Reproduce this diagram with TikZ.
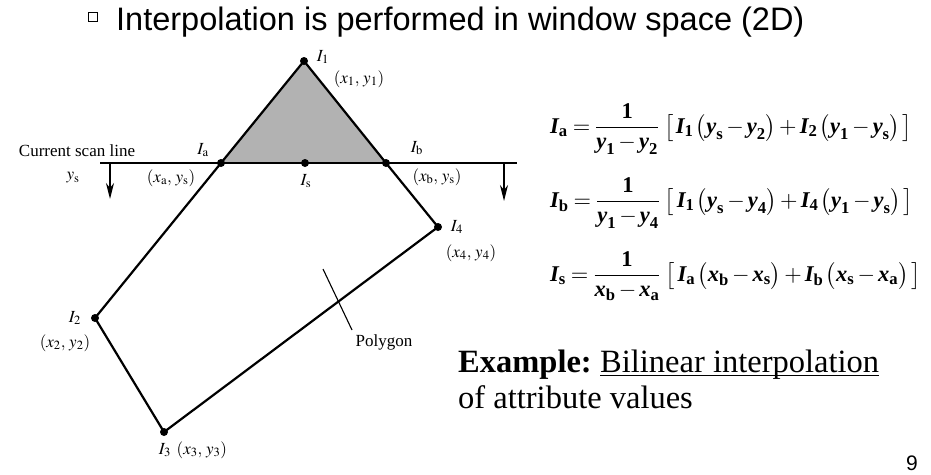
\documentclass[tikz,border=0pt]{standalone}
\usepackage{amsmath}
\usepackage{mathptmx}
\usepackage{fontspec}
\setmainfont{Liberation Serif}
\newfontfamily\arialf{Liberation Sans}
\usetikzlibrary{arrows.meta}
\newcommand{\bv}[1]{\text{\bfseries\itshape #1}}
\newcommand{\bsub}[1]{\text{\bfseries #1}}
\begin{document}
\begin{tikzpicture}[x=1pt,y=-1pt,
  vdot/.style={circle,fill=black,inner sep=0pt,minimum size=8pt},
  lbl/.style={font=\fontsize{17}{20}\selectfont,inner sep=0pt},
  polyedge/.style={line width=2.2pt,line join=round},
  scanarrow/.style={line width=1.6pt,-{Stealth[length=16pt,width=8pt,inset=5pt]}},
  eq/.style={font=\fontsize{22.5}{26}\selectfont,anchor=west,inner sep=0pt},
  bigtext/.style={font=\fontsize{32.5}{34}\selectfont,anchor=base west,inner sep=0pt}]
\useasboundingbox (0,0) rectangle (931,474);
% title
\draw[line width=0.8pt] (88.5,12) rectangle (97.5,21);
\node[font=\arialf\fontsize{32.5}{36}\selectfont,anchor=base west,inner sep=0pt] (title) at (116,30) {Interpolation is performed in window space (2D)};
% vertices
\coordinate (P1) at (304,61);
\coordinate (Pa) at (221,163);
\coordinate (Ps) at (305,163);
\coordinate (Pb) at (386,163);
\coordinate (P4) at (438,227);
\coordinate (P2) at (95,318);
\coordinate (P3) at (164,432);
\coordinate (SL) at (100,163);
\coordinate (SR) at (517,163);
\coordinate (AL1) at (110,163);
\coordinate (AL2) at (110,199);
\coordinate (AR1) at (504,163);
\coordinate (AR2) at (504,201);
\coordinate (LD1) at (323,269);
\coordinate (LD2) at (352,330);
% shaded triangle
\fill[black!30] (P1) -- (Pa) -- (Pb) -- cycle;
% scan line and arrows
\draw[line width=2pt] (SL) -- (SR);
\draw[scanarrow] (AL1) -- (AL2);
\draw[scanarrow] (AR1) -- (AR2);
% polygon
\draw[polyedge] (P1) -- (Pa) -- (P2) -- (P3) -- (P4) -- (Pb) -- cycle;
\draw[line width=1.1pt] (LD1) -- (LD2);
% dots
\node[vdot] (d1) at (P1) {};
\node[vdot] (da) at (Pa) {};
\node[vdot] (ds) at (Ps) {};
\node[vdot] (db) at (Pb) {};
\node[vdot] (d4) at (P4) {};
\node[vdot] (d2) at (P2) {};
\node[vdot] (d3) at (P3) {};
% labels
\node[lbl] (l1) at (323,57) {$I_{1}$};
\node[lbl] (c1) at (359,79) {$(x_{1},\,y_{1})$};
\node[lbl] (csl) at (77,151) {Current scan line};
\node[lbl] (ys) at (73,178) {$y_{\mathrm{s}}$};
\node[lbl] (la) at (203,150) {$I_{\mathrm{a}}$};
\node[lbl] (ca) at (171,178) {$(x_{\mathrm{a}},\,y_{\mathrm{s}})$};
\node[lbl] (ls) at (306,181) {$I_{\mathrm{s}}$};
\node[lbl] (lb) at (417,148) {$I_{\mathrm{b}}$};
\node[lbl] (cb) at (437,177) {$(x_{\mathrm{b}},\,y_{\mathrm{s}})$};
\node[lbl] (l4) at (457,227) {$I_{4}$};
\node[lbl] (c4) at (471,253) {$(x_{4},\,y_{4})$};
\node[lbl] (l2) at (75,318) {$I_{2}$};
\node[lbl] (c2) at (65,343) {$(x_{2},\,y_{2})$};
\node[lbl] (l3) at (193,450) {$I_{3}\;\,(x_{3},\,y_{3})$};
\node[lbl] (poly) at (384,342) {Polygon};
% equations
\node[eq] (eqa) at (550,129) {$\bv{I}_{\bsub{a}} = \dfrac{\bsub{1}}{\bv{y}_{\bsub{1}} - \bv{y}_{\bsub{2}}}\;\bigl[\,\bv{I}_{\bsub{1}}\,\bigl(\bv{y}_{\bsub{s}} - \bv{y}_{\bsub{2}}\bigr) + \bv{I}_{\bsub{2}}\,\bigl(\bv{y}_{\bsub{1}} - \bv{y}_{\bsub{s}}\bigr)\,\bigr]$};
\node[eq] (eqb) at (550,203) {$\bv{I}_{\bsub{b}} = \dfrac{\bsub{1}}{\bv{y}_{\bsub{1}} - \bv{y}_{\bsub{4}}}\;\bigl[\,\bv{I}_{\bsub{1}}\,\bigl(\bv{y}_{\bsub{s}} - \bv{y}_{\bsub{4}}\bigr) + \bv{I}_{\bsub{4}}\,\bigl(\bv{y}_{\bsub{1}} - \bv{y}_{\bsub{s}}\bigr)\,\bigr]$};
\node[eq] (eqs) at (550,276) {$\bv{I}_{\bsub{s}} = \dfrac{\bsub{1}}{\bv{x}_{\bsub{b}} - \bv{x}_{\bsub{a}}}\;\bigl[\,\bv{I}_{\bsub{a}}\,\bigl(\bv{x}_{\bsub{b}} - \bv{x}_{\bsub{s}}\bigr) + \bv{I}_{\bsub{b}}\,\bigl(\bv{x}_{\bsub{s}} - \bv{x}_{\bsub{a}}\bigr)\,\bigr]$};
% example text
\node[bigtext] (ex1) at (458,372) {\textbf{Example:}};
\node[bigtext] (exu) at ([xshift=8pt]ex1.base east) {Bilinear interpolation};
\draw[line width=1.2pt] ([yshift=-3.5pt]exu.base west) -- ([yshift=-3.5pt]exu.base east);
\node[bigtext] (ex2) at (458,408) {of attribute values};
% page number
\node[font=\arialf\fontsize{21}{24}\selectfont,anchor=base east,inner sep=0pt] (pg) at (918,470) {9};
\end{tikzpicture}
\end{document}
